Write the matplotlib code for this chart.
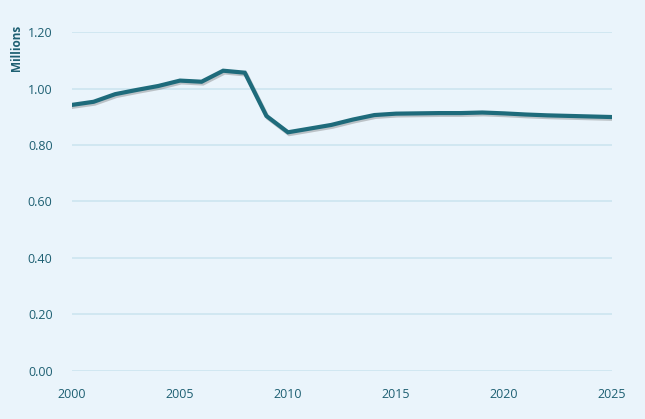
import matplotlib
matplotlib.use("Agg")
import matplotlib.pyplot as plt
import matplotlib.patheffects as pe

# 数据
years = list(range(2000, 2026))
values = [0.942, 0.953, 0.980, 0.995, 1.009, 1.028, 1.024, 1.063, 1.056, 0.903,
          0.845, 0.858, 0.871, 0.890, 0.906, 0.911, 0.912, 0.913, 0.913, 0.915,
          0.912, 0.908, 0.905, 0.903, 0.901, 0.899]
y_ticks = [0.0, 0.2, 0.4, 0.6, 0.8, 1.0, 1.2]
x_ticks = [2000, 2005, 2010, 2015, 2020, 2025]

bg = '#EAF4FB'
text_c = '#1D5F72'
line_c = '#1E6B7B'
grid_c = '#CCE5EF'

plt.rcParams['font.family'] = ['Open Sans', 'DejaVu Sans']

fig = plt.figure(figsize=(6.45, 4.19), dpi=100, facecolor=bg)
ax = fig.add_axes([0.1116, 0.1146, 0.8372, 0.809])
ax.set_facecolor(bg)

ax.plot(years, values, color=line_c, lw=3.0, solid_joinstyle='miter',
        path_effects=[pe.SimpleLineShadow(offset=(1.0, -1.3), shadow_color='#666666', alpha=0.35),
                      pe.Normal()], zorder=3)

ax.set_xlim(2000, 2025)
ax.set_ylim(0, 1.2)
ax.set_xticks(x_ticks)
ax.set_yticks(y_ticks)
ax.set_yticklabels(['%.2f' % v for v in y_ticks])
ax.grid(axis='y', color=grid_c, lw=1.2)
ax.set_axisbelow(True)
for s in ax.spines.values():
    s.set_visible(False)
ax.tick_params(length=0, labelsize=9, colors=text_c)
ax.tick_params(axis='y', pad=14)
ax.tick_params(axis='x', pad=12)

fig.text(0.026, 0.885, 'Millions', rotation=90, ha='center', va='center',
         color=text_c, fontsize=8.5, fontweight='bold')

fig.savefig('out.png', dpi=100, facecolor=bg)
